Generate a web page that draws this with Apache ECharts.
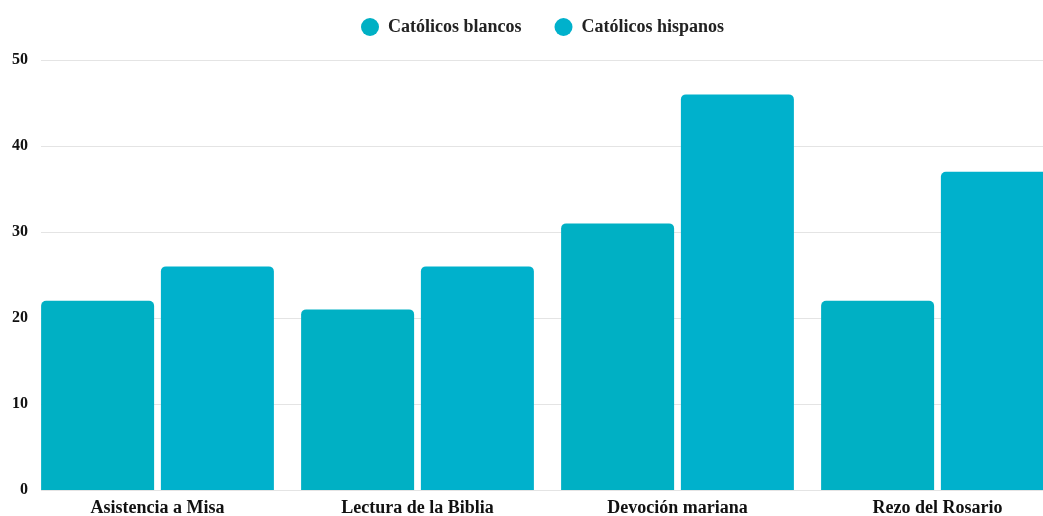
<!DOCTYPE html>
<html>
<head>
<meta charset="utf-8">
<script src="https://cdn.jsdelivr.net/npm/echarts@6/dist/echarts.min.js"></script>
<style>
  html, body { margin: 0; padding: 0; background: #ffffff; }
  #chart { width: 1043px; height: 516px; }
</style>
</head>
<body>
<div id="chart"></div>
<script>
// Practices compared between white and Hispanic Catholics (%)
const categories = ['Asistencia a Misa', 'Lectura de la Biblia', 'Devoción mariana', 'Rezo del Rosario'];
const blancos = [22, 21, 31, 22];
const hispanos = [26, 26, 46, 37];
const seriesNames = ['Católicos blancos', 'Católicos hispanos'];
const yMin = 0, yMax = 50, yStep = 10;

const serif = '"Liberation Serif", "DejaVu Serif", serif';
const chart = echarts.init(document.getElementById('chart'), null, { renderer: 'canvas' });

chart.setOption({
  animation: false,
  backgroundColor: '#ffffff',
  legend: {
    top: 13,
    left: 356,
    icon: 'circle',
    itemWidth: 18,
    itemHeight: 18,
    itemGap: 33,
    textStyle: { fontFamily: serif, fontWeight: 'bold', fontSize: 18, color: '#222222', padding: [0, 0, 0, 4] },
    data: seriesNames
  },
  grid: [
    // gridlines and value labels
    { left: 41, right: 0, top: 60, bottom: 26 },
    // bars: four bands of 260px, the last one running past the right edge
    { left: 27.5, width: 1040, top: 60, bottom: 26, outerBoundsMode: 'none', containLabel: false }
  ],
  xAxis: [
    { type: 'category', gridIndex: 0, data: categories, show: false },
    {
      type: 'category', gridIndex: 1, data: categories,
      axisLine: { show: false },
      axisTick: { show: false },
      axisLabel: { fontFamily: serif, fontWeight: 'bold', fontSize: 18, color: '#111111', margin: 9 }
    }
  ],
  yAxis: [
    {
      type: 'value', gridIndex: 0, min: yMin, max: yMax, interval: yStep,
      axisLine: { show: false },
      axisTick: { show: false },
      axisLabel: { fontFamily: serif, fontWeight: 'bold', fontSize: 16, color: '#111111', margin: 13 },
      splitLine: { lineStyle: { color: '#e4e4e4', width: 1 } }
    },
    {
      type: 'value', gridIndex: 1, min: yMin, max: yMax, interval: yStep,
      show: false, splitLine: { show: false }
    }
  ],
  series: [
    {
      name: seriesNames[0], type: 'bar', xAxisIndex: 1, yAxisIndex: 1,
      data: blancos, barWidth: 113, barGap: '6%',
      itemStyle: { color: '#00b0c4', borderRadius: [5, 5, 0, 0] }
    },
    {
      name: seriesNames[1], type: 'bar', xAxisIndex: 1, yAxisIndex: 1,
      data: hispanos, barWidth: 113, barGap: '6%',
      itemStyle: { color: '#00b1cc', borderRadius: [5, 5, 0, 0] }
    }
  ]
});
</script>
</body>
</html>
